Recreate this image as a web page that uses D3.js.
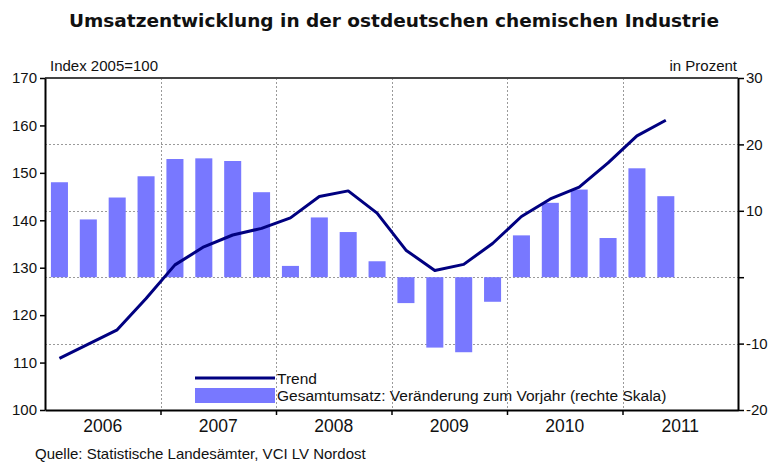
<!DOCTYPE html>
<html>
<head>
<meta charset="utf-8">
<script src="https://cdn.jsdelivr.net/npm/d3@7"></script>
<style>
  html, body { margin: 0; padding: 0; background: #fff; }
  svg { display: block; font-family: "Liberation Sans", Arial, sans-serif; }
</style>
</head>
<body>
<svg id="chart" width="769" height="467"></svg>
<script>
// ---- data ----
const quarters = [
  "2006Q1","2006Q2","2006Q3","2006Q4",
  "2007Q1","2007Q2","2007Q3","2007Q4",
  "2008Q1","2008Q2","2008Q3","2008Q4",
  "2009Q1","2009Q2","2009Q3","2009Q4",
  "2010Q1","2010Q2","2010Q3","2010Q4",
  "2011Q1","2011Q2","2011Q3","2011Q4"
];
// Gesamtumsatz: Veränderung zum Vorjahr (right scale, %)
const changeValues = [
  14.3, 8.7, 12.0, 15.2,
  17.8, 17.9, 17.5, 12.8,
  1.7, 9.0, 6.8, 2.4,
  -3.9, -10.6, -11.3, -3.7,
  6.3, 11.2, 13.2, 5.9,
  16.4, 12.2
];
// Trend (left scale, Index 2005=100)
const trendValues = [
  110.9, 113.9, 116.9, 123.5,
  130.6, 134.4, 136.9, 138.3,
  140.5, 145.0, 146.2, 141.5,
  133.7, 129.4, 130.7, 135.1,
  140.8, 144.5, 147.0, 152.1,
  157.8, 161.1
];
const years = [2006, 2007, 2008, 2009, 2010, 2011];
const yearLabels = ["2006", "2007", "2008", "2009", "2010", "2011"];
const leftTicks = [100, 110, 120, 130, 140, 150, 160, 170];
const rightTicks = [-20, -10, 0, 10, 20, 30];
const rightTickLabels = ["-20", "-10", "", "10", "20", "30"];
const gridRight = [20, 10, 0, -10];

const titleText = "Umsatzentwicklung in der ostdeutschen chemischen Industrie";
const leftUnit = "Index 2005=100";
const rightUnit = "in Prozent";
const legendTrend = "Trend";
const legendBars = "Gesamtumsatz: Veränderung zum Vorjahr (rechte Skala)";
const sourceText = "Quelle: Statistische Landesämter, VCI LV Nordost";

// ---- layout ----
const L = 45, R = 738, T = 78, B = 410;
const barColor = "#7878ff";
const lineColor = "#000080";

const svg = d3.select("#chart");

const x = d3.scaleBand().domain(quarters).range([L, R]).paddingInner(0.41).paddingOuter(0.205);
const xYear = d3.scaleLinear().domain([2006, 2012]).range([L, R]);
const yL = d3.scaleLinear().domain([100, 170]).range([B, T]);
const yR = d3.scaleLinear().domain([-20, 30]).range([B, T]);

// grid
const grid = svg.append("g").attr("stroke", "#9a9a9a").attr("stroke-width", 1).attr("stroke-dasharray", "2,2");
grid.selectAll("line.h").data(gridRight).join("line")
  .attr("x1", L).attr("x2", R)
  .attr("y1", d => Math.round(yR(d)) + 0.5).attr("y2", d => Math.round(yR(d)) + 0.5);
grid.selectAll("line.v").data(years.slice(1)).join("line")
  .attr("y1", T).attr("y2", B)
  .attr("x1", d => Math.round(xYear(d)) + 0.5).attr("x2", d => Math.round(xYear(d)) + 0.5);

// bars
const barData = changeValues.map((v, i) => ({ q: quarters[i], v }));
svg.append("g").selectAll("rect").data(barData).join("rect")
  .attr("x", d => x(d.q))
  .attr("width", x.bandwidth())
  .attr("y", d => yR(Math.max(0, d.v)))
  .attr("height", d => Math.abs(yR(d.v) - yR(0)))
  .attr("fill", barColor);

// trend line
const lineData = trendValues.map((v, i) => ({ q: quarters[i], v }));
svg.append("path").datum(lineData)
  .attr("fill", "none").attr("stroke", lineColor).attr("stroke-width", 3)
  .attr("stroke-linejoin", "round")
  .attr("d", d3.line().x(d => x(d.q) + x.bandwidth() / 2).y(d => yL(d.v)));

// top border
svg.append("line").attr("x1", L).attr("x2", R).attr("y1", T).attr("y2", T)
  .attr("stroke", "#444").attr("stroke-width", 2);

// left axis
const axL = svg.append("g").attr("transform", `translate(${L},0)`)
  .call(d3.axisLeft(yL).tickValues(leftTicks).tickSize(5).tickPadding(3).tickSizeOuter(0));
axL.select(".domain").attr("stroke", "#000").attr("stroke-width", 2);
axL.selectAll(".tick line").attr("stroke", "#000").attr("stroke-width", 1.5);
axL.selectAll(".tick text").attr("font-size", 15).attr("fill", "#111")
  .attr("font-family", "Liberation Sans, Arial, sans-serif");

// right axis
const axR = svg.append("g").attr("transform", `translate(${R},0)`)
  .call(d3.axisRight(yR).tickValues(rightTicks).tickSize(6).tickPadding(2).tickSizeOuter(0)
    .tickFormat((d, i) => rightTickLabels[rightTicks.indexOf(d)]));
axR.select(".domain").attr("stroke", "#000").attr("stroke-width", 2);
axR.selectAll(".tick line").attr("stroke", "#000").attr("stroke-width", 1.5);
axR.selectAll(".tick text").attr("font-size", 15).attr("fill", "#111")
  .attr("font-family", "Liberation Sans, Arial, sans-serif");

// bottom axis
const axB = svg.append("g").attr("transform", `translate(0,${B})`)
  .call(d3.axisBottom(xYear).tickValues(years.slice(1)).tickSize(5).tickFormat("").tickSizeOuter(0));
axB.select(".domain").attr("stroke", "#000").attr("stroke-width", 2);
axB.selectAll(".tick line").attr("stroke", "#000").attr("stroke-width", 1.5);

svg.append("g").selectAll("text").data(years).join("text")
  .attr("x", d => xYear(d + 0.5))
  .attr("y", 432)
  .attr("text-anchor", "middle")
  .attr("font-size", 17.5)
  .attr("fill", "#111")
  .text((d, i) => yearLabels[i]);

// title
svg.append("text").attr("x", 394).attr("y", 27).attr("text-anchor", "middle")
  .attr("font-size", 18.5).attr("font-weight", "bold").attr("fill", "#111")
  .attr("font-family", "DejaVu Sans, sans-serif")
  .text(titleText);

// unit labels
svg.append("text").attr("x", 50).attr("y", 71).attr("font-size", 15).attr("fill", "#111").text(leftUnit);
svg.append("text").attr("x", 737).attr("y", 71).attr("text-anchor", "end").attr("font-size", 15).attr("fill", "#111").text(rightUnit);

// legend
svg.append("line").attr("x1", 195).attr("x2", 275).attr("y1", 378).attr("y2", 378)
  .attr("stroke", lineColor).attr("stroke-width", 3);
svg.append("rect").attr("x", 195).attr("y", 388).attr("width", 80).attr("height", 15).attr("fill", barColor);
svg.append("text").attr("x", 277).attr("y", 384).attr("font-size", 15.5).attr("fill", "#111").text(legendTrend);
svg.append("text").attr("x", 277).attr("y", 401).attr("font-size", 15.5).attr("fill", "#111").text(legendBars);

// source
svg.append("text").attr("x", 35).attr("y", 459).attr("font-size", 15).attr("fill", "#111").text(sourceText);
</script>
</body>
</html>
